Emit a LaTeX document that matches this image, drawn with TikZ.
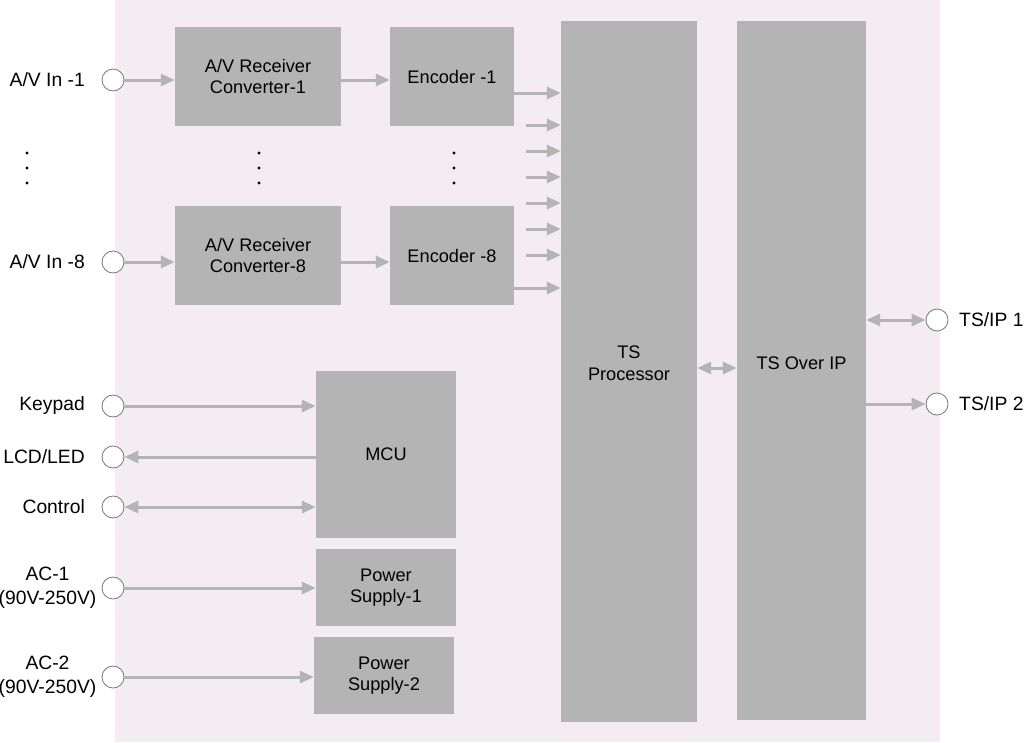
\documentclass[tikz,border=0pt]{standalone}
\usepackage{fontspec}
\setmainfont{Liberation Sans}
\usetikzlibrary{arrows.meta,calc}
\definecolor{bgpink}{RGB}{243,236,243}
\definecolor{boxgray}{RGB}{180,180,180}
\definecolor{arrgray}{RGB}{180,180,180}
\definecolor{ringgray}{RGB}{120,120,120}
\tikzset{
  box/.style={fill=boxgray, draw=none, inner sep=0pt, align=center, font=\fontsize{18.2}{21.5}\selectfont},
  port/.style={circle, draw=ringgray, line width=0.8pt, fill=white, minimum size=22pt, inner sep=0pt},
  lbl/.style={font=\fontsize{19.3}{24}\selectfont, align=center, inner sep=0pt},
  arr/.style={draw=arrgray, line width=3pt, -{Triangle[length=14pt,width=12pt]}},
  darr/.style={draw=arrgray, line width=3pt, {Triangle[length=14pt,width=12pt]}-{Triangle[length=14pt,width=12pt]}},
  dotc/.style={circle, fill=black, inner sep=0pt, minimum size=3.3pt},
}
\begin{document}
\begin{tikzpicture}[x=1pt,y=-1pt]
\useasboundingbox (0,0) rectangle (1025,742);
\fill[bgpink] (115,0) rectangle (940,742);

% boxes
\node[box, minimum width=166pt, minimum height=99pt] (avrc1) at (258,76.5) {A/V Receiver\\Converter-1};
\node[box, minimum width=124pt, minimum height=99pt] (enc1) at (452,76.5) {Encoder -1};
\node[box, minimum width=166pt, minimum height=99pt] (avrc8) at (258,255.5) {A/V Receiver\\Converter-8};
\node[box, minimum width=124pt, minimum height=99pt] (enc8) at (452,255.5) {Encoder -8};
\node[box, minimum width=136pt, minimum height=701pt] (tsp) at (629,371.5) {};
\node[box] at (629,363) {TS\\Processor};
\node[box, minimum width=129pt, minimum height=699pt] (tsip) at (801.5,370.5) {};
\node[box] at (801.5,363) {TS Over IP};
\node[box, minimum width=140pt, minimum height=167pt] (mcu) at (386,454.5) {MCU};
\node[box, minimum width=140pt, minimum height=77pt] (ps1) at (386,587.5) {Power\\Supply-1};
\node[box, minimum width=140pt, minimum height=77pt] (ps2) at (384,675.5) {Power\\Supply-2};

% ports
\node[port] (in1) at (113,80) {};
\node[port] (in8) at (113,262) {};
\node[port] (kp) at (113,406) {};
\node[port] (lcd) at (113,457) {};
\node[port] (ctl) at (113,507) {};
\node[port] (ac1) at (113,588) {};
\node[port] (ac2) at (113,677) {};
\node[port] (ts1) at (937,320) {};
\node[port] (ts2) at (937,404) {};

% labels
\node[lbl, anchor=east] (lin1) at (85,80) {A/V In -1};
\node[lbl, anchor=east] (lin8) at (85,262) {A/V In -8};
\node[lbl, anchor=east] (lkp) at (85,406) {Keypad};
\node[lbl, anchor=east] (llcd) at (85,457) {LCD/LED};
\node[lbl, anchor=east] (lctl) at (85,507) {Control};
\node[lbl] (lac1) at (47.5,588) {AC-1\\(90V-250V)};
\node[lbl] (lac2) at (47.5,677) {AC-2\\(90V-250V)};
\node[lbl, anchor=west] (lts1) at (959,320) {TS/IP 1};
\node[lbl, anchor=west] (lts2) at (959,404) {TS/IP 2};

% dots
\foreach \x/\n in {27/a,259/b,454/c}{
  \node[dotc] (d\n1) at (\x,153) {};
  \node[dotc] (d\n2) at (\x,168) {};
  \node[dotc] (d\n3) at (\x,183) {};
}

% arrows
\draw[arr] (in1) -- (avrc1.west |- in1);
\draw[arr] (avrc1.east |- in1) -- (enc1.west |- in1);
\draw[arr] (in8) -- (avrc8.west |- in8);
\draw[arr] (avrc8.east |- in8) -- (enc8.west |- in8);
\coordinate (e1) at (enc1.east |- 0,93);
\coordinate (e8) at (enc8.east |- 0,288);
\draw[arr] (e1) -- (tsp.west |- e1);
\draw[arr] (e8) -- (tsp.west |- e8);
\foreach \y/\n in {125/1,151/2,177/3,203/4,229/5,255/6}{
  \coordinate (s\n) at (526,\y);
  \draw[arr] (s\n) -- (tsp.west |- s\n);
}
\draw[darr] (tsp.east |- 0,368) -- (tsip.west |- 0,368);
\draw[darr] (tsip.east |- ts1) -- (ts1);
\draw[arr] (tsip.east |- ts2) -- (ts2);
\draw[arr] (kp) -- (mcu.west |- kp);
\draw[arr] (mcu.west |- lcd) -- (lcd);
\draw[darr] (ctl) -- (mcu.west |- ctl);
\draw[arr] (ac1) -- (ps1.west |- ac1);
\draw[arr] (ac2) -- (ps2.west |- ac2);
\end{tikzpicture}
\end{document}
